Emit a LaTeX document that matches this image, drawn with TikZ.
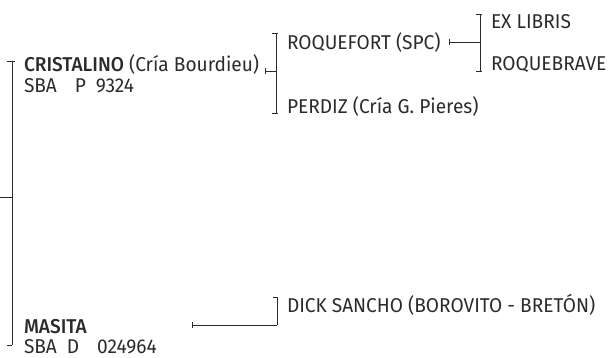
\documentclass[tikz,border=0pt]{standalone}
\usepackage{fontspec}
\setmainfont{Fira Sans}[FakeStretch=0.955,BoldFont={Fira Sans Medium}]
\definecolor{ink}{HTML}{2B2B2B}
\begin{document}
\begin{tikzpicture}[x=1pt,y=-1pt,
  lbl/.style={anchor=base west,inner sep=0pt,outer sep=0pt,text=ink,font=\fontsize{20}{22}\selectfont},
  ln/.style={draw=ink,line width=0.9pt}]
\useasboundingbox (0,0) rectangle (610,357);
% texts
\node[lbl] (cri) at (24,71) {\textbf{CRISTALINO} (Cría Bourdieu)};
\node[lbl] (cri2) at (24,92) {SBA\hspace{0.9em}P\hspace{0.5em}9324};
\node[lbl] (roq) at (287,49) {ROQUEFORT (SPC)};
\node[lbl] (per) at (287,113) {PERDIZ (Cría G. Pieres)};
\node[lbl] (exl) at (491,28) {EX LIBRIS};
\node[lbl] (rqb) at (491,70) {ROQUEBRAVE};
\node[lbl] (mas) at (24,333.5) {\textbf{MASITA}};
\node[lbl] (mas2) at (24,353.5) {SBA\hspace{0.5em}D\hspace{0.9em}024964};
\node[lbl] (dick) at (287,312) {DICK SANCHO (BOROVITO - BRETÓN)};
% coordinates
\coordinate (root) at (0,197);
\coordinate (mT) at (12.3,61);
\coordinate (mB) at (12.3,345);
\coordinate (mM) at (12.3,197);
\coordinate (c1) at (265,71);
\coordinate (c1b) at (276,71);
\coordinate (bT) at (276,33);
\coordinate (bB) at (276,113);
\coordinate (r1) at (449,42);
\coordinate (r1b) at (480,42);
\coordinate (rT) at (480,14);
\coordinate (rB) at (480,71);
\coordinate (m1) at (192,325);
\coordinate (m1b) at (277,325);
\coordinate (dT) at (277,297);
% main bracket
\draw[ln] (mT) -- (mB);
\draw[ln] ([xshift=-5.3pt]mT) -- ([xshift=2.7pt]mT);
\draw[ln] ([xshift=-5.3pt]mB) -- (mB);
\draw[ln] (root) -- (mM);
% cristalino
\draw[ln] ([yshift=-3pt]c1) -- ([yshift=3pt]c1);
\draw[ln] (c1) -- (c1b);
\draw[ln] (bT) -- (bB);
\draw[ln] ([xshift=-4.3pt]bT) -- ([xshift=2pt]bT);
\draw[ln] ([xshift=-4.3pt]bB) -- ([xshift=2pt]bB);
% roquefort
\draw[ln] ([yshift=-3pt]r1) -- ([yshift=3pt]r1);
\draw[ln] (r1) -- (r1b);
\draw[ln] (rT) -- (rB);
\draw[ln] ([xshift=-4.3pt]rT) -- ([xshift=2pt]rT);
\draw[ln] ([xshift=-4.3pt]rB) -- ([xshift=2pt]rB);
% masita
\draw[ln] ([yshift=-3pt]m1) -- ([yshift=3pt]m1);
\draw[ln] (m1) -- (m1b);
\draw[ln] (dT) -- (m1b);
\draw[ln] ([xshift=-4.3pt]dT) -- ([xshift=1pt]dT);
\end{tikzpicture}
\end{document}
